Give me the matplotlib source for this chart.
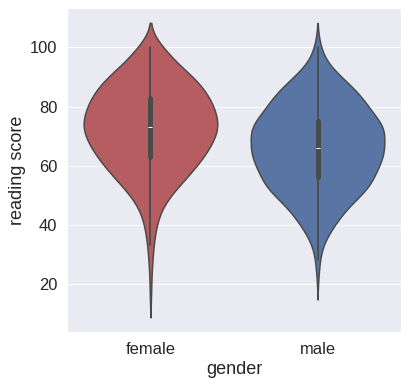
import matplotlib
matplotlib.use("Agg")
import matplotlib.pyplot as plt
import numpy as np
import pandas as pd
import seaborn as sns

# reading scores, binned: score value -> number of students
female_scores = [17, 23, 28, 33, 38, 43, 48, 53, 58, 63, 68, 73, 78, 83, 88, 93, 98, 100]
female_counts = [1, 1, 2, 3, 5, 8, 15, 28, 42, 54, 63, 70, 66, 60, 50, 33, 12, 8]

male_scores = [23, 28, 33, 38, 43, 48, 52, 56, 61, 66, 71, 75, 80, 85, 90, 95, 100]
male_counts = [1, 2, 4, 12, 22, 30, 36, 48, 60, 64, 56, 52, 48, 38, 22, 7, 3]

genders = ["female", "male"]
colors = ["#C44E52", "#4C72B0"]

female = np.repeat(female_scores, female_counts)
male = np.repeat(male_scores, male_counts)
df = pd.DataFrame({
    "gender": ["female"] * len(female) + ["male"] * len(male),
    "reading score": np.concatenate([female, male]),
})

sns.set_theme(style="darkgrid", font_scale=1.5)
plt.rcParams['font.family'] = ['Liberation Sans', 'DejaVu Sans']

fig, ax = plt.subplots(figsize=(408 / 72, 387 / 72), dpi=72)
sns.violinplot(data=df, x="gender", y="reading score", hue="gender", order=genders,
               hue_order=genders, palette=colors, legend=False, linewidth=1.5,
               linecolor="#4a4a4a",
               inner_kws=dict(box_width=5, whis_width=1.8), ax=ax)
ax.set_yticks([20, 40, 60, 80, 100])
fig.subplots_adjust(left=0.164, right=0.983, top=0.979, bottom=0.142)
fig.savefig("out.png", dpi=72)
